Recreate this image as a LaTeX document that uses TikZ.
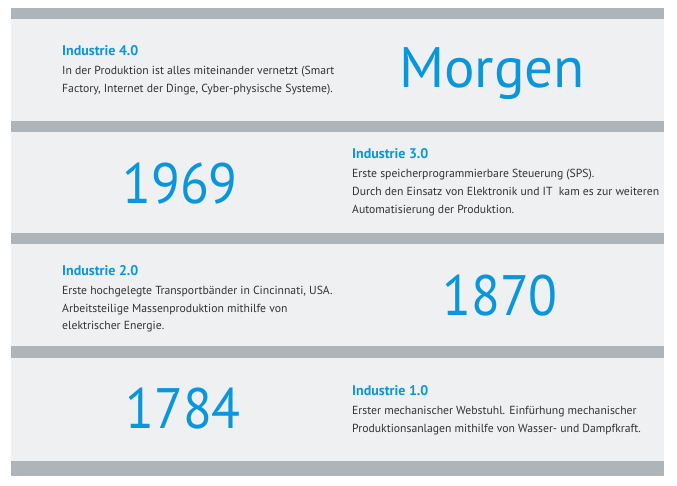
\documentclass[tikz,border=0pt]{standalone}
\usepackage{fontspec}
\setmainfont{PT Sans}
\definecolor{ibar}{HTML}{ADB4BA}
\definecolor{ipanel}{HTML}{EFF0F2}
\definecolor{iblue}{HTML}{0A96DC}
\definecolor{itext}{HTML}{333333}
\newcommand{\yearnum}[1]{\scalebox{0.93}[1]{#1}}
\begin{document}
\begin{tikzpicture}[x=1pt,y=-1pt,
  barrect/.style={fill=ibar,draw=none},
  panelrect/.style={fill=ipanel,draw=none},
  head/.style={anchor=base west,inner sep=0,text=iblue,font=\fontsize{14}{16}\selectfont\bfseries},
  body/.style={anchor=base west,inner sep=0,text=itext,font=\fontsize{11.7}{14}\selectfont},
  big/.style={anchor=base,inner sep=0,text=iblue,font=\fontsize{57}{60}\selectfont}]
\useasboundingbox[fill=white] (0,0) rectangle (677,485);
% panels
\fill[panelrect] (11,19) rectangle (664,121);
\fill[panelrect] (11,132) rectangle (664,233);
\fill[panelrect] (11,244) rectangle (664,346);
\fill[panelrect] (11,358) rectangle (664,461);
% bars
\fill[barrect] (11,8) rectangle (664,19);
\fill[barrect] (11,121) rectangle (664,132);
\fill[barrect] (11,233) rectangle (664,244);
\fill[barrect] (11,346) rectangle (664,358);
\fill[barrect] (11,461) rectangle (664,476);
% Industrie 4.0
\node[head] (h4) at (62,55) {Industrie 4.0};
\node[body] (b4a) at (62,74) {In der Produktion ist alles miteinander vernetzt (Smart};
\node[body] (b4b) at (62,92) {Factory, Internet der Dinge, Cyber-physische Systeme).};
\node[big] (y4) at (492,87) {Morgen};
% Industrie 3.0
\node[big] (y3) at (180,203) {\yearnum{1969}};
\node[head] (h3) at (352,158) {Industrie 3.0};
\node[body] (b3a) at (352,177) {Erste speicherprogrammierbare Steuerung (SPS).};
\node[body] (b3b) at (352,195) {Durch den Einsatz von Elektronik und IT~ kam es zur weiteren};
\node[body] (b3c) at (352,213) {Automatisierung der Produktion.};
% Industrie 2.0
\node[head] (h2) at (62,275) {Industrie 2.0};
\node[body] (b2a) at (62,294) {Erste hochgelegte Transportbänder in Cincinnati, USA.};
\node[body] (b2b) at (62,312) {Arbeitsteilige Massenproduktion mithilfe von};
\node[body] (b2c) at (62,329) {elektrischer Energie.};
\node[big] (y2) at (500,315) {\yearnum{1870}};
% Industrie 1.0
\node[big] (y1) at (183,428) {\yearnum{1784}};
\node[head] (h1) at (352,395) {Industrie 1.0};
\node[body] (b1a) at (352,414) {Erster mechanischer Webstuhl. Einfürhung mechanischer};
\node[body] (b1b) at (352,432) {Produktionsanlagen mithilfe von Wasser- und Dampfkraft.};
\end{tikzpicture}
\end{document}
